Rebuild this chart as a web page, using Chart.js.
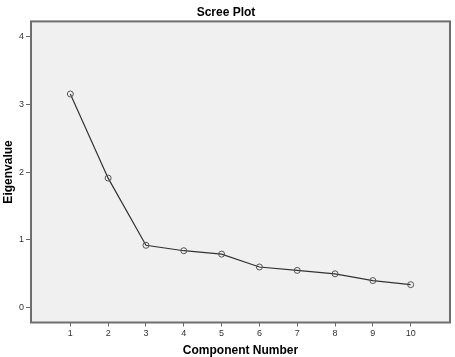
<!DOCTYPE html>
<html>
<head>
<meta charset="utf-8">
<script src="https://cdn.jsdelivr.net/npm/chart.js@4"></script>
<style>
  html, body { margin: 0; padding: 0; background: #ffffff; }
  #wrap { width: 455px; height: 357px; }
</style>
</head>
<body>
<div id="wrap"><canvas id="c" width="455" height="357"></canvas></div>
<script>
const components = [1, 2, 3, 4, 5, 6, 7, 8, 9, 10];
const eigenvalues = [3.15, 1.91, 0.92, 0.84, 0.79, 0.60, 0.55, 0.50, 0.40, 0.34];
const xTickValues = [1, 2, 3, 4, 5, 6, 7, 8, 9, 10];
const yTickValues = [0, 1, 2, 3, 4];

const plotBg = {
  id: 'plotBg',
  beforeDraw(chart) {
    const a = chart.chartArea, ctx = chart.ctx;
    ctx.save();
    ctx.fillStyle = '#f0f0f0';
    ctx.fillRect(a.left, a.top, a.right - a.left, a.bottom - a.top);
    ctx.restore();
  },
  afterDatasetsDraw(chart) {
    const a = chart.chartArea, ctx = chart.ctx;
    ctx.save();
    ctx.strokeStyle = '#6e6e6e';
    ctx.lineWidth = 2;
    ctx.strokeRect(a.left, a.top, a.right - a.left, a.bottom - a.top);
    ctx.restore();
  }
};

new Chart(document.getElementById('c'), {
  type: 'line',
  data: {
    datasets: [{
      data: components.map((c, i) => ({ x: c, y: eigenvalues[i] })),
      borderColor: '#333333',
      borderWidth: 1.2,
      pointRadius: 3,
      pointBorderWidth: 1,
      pointBorderColor: '#555555',
      pointBackgroundColor: 'rgba(0,0,0,0)',
      tension: 0
    }]
  },
  options: {
    responsive: false,
    animation: false,
    layout: { padding: { left: 0, right: 3, top: 0, bottom: 0 } },
    plugins: {
      legend: { display: false },
      tooltip: { enabled: false },
      title: {
        display: true,
        text: 'Scree Plot',
        color: '#000000',
        font: { family: 'Arial, "Liberation Sans", sans-serif', size: 12, weight: 'bold' },
        padding: { top: 5, bottom: 2 }
      }
    },
    scales: {
      x: {
        type: 'linear',
        min: -0.04,
        max: 11.04,
        afterBuildTicks(scale) { scale.ticks = xTickValues.map(v => ({ value: v })); },
        afterFit(scale) { scale.height = 34.5; },
        ticks: {
          color: '#333333',
          font: { family: 'Arial, "Liberation Sans", sans-serif', size: 9 },
          padding: 2,
          maxRotation: 0
        },
        grid: { drawOnChartArea: false, drawTicks: true, tickLength: 4, color: '#666666', lineWidth: 1 },
        border: { display: false },
        title: {
          display: true,
          text: 'Component Number',
          color: '#000000',
          font: { family: 'Arial, "Liberation Sans", sans-serif', size: 12, weight: 'bold', lineHeight: 1 },
          padding: 0
        }
      },
      y: {
        type: 'linear',
        min: -0.218,
        max: 4.22,
        afterBuildTicks(scale) { scale.ticks = yTickValues.map(v => ({ value: v })); },
        afterFit(scale) { scale.width = 31; },
        ticks: {
          color: '#333333',
          font: { family: 'Arial, "Liberation Sans", sans-serif', size: 9 },
          padding: 2
        },
        grid: { drawOnChartArea: false, drawTicks: true, tickLength: 5, color: '#666666', lineWidth: 1 },
        border: { display: false },
        title: {
          display: true,
          text: 'Eigenvalue',
          color: '#000000',
          font: { family: 'Arial, "Liberation Sans", sans-serif', size: 12, weight: 'bold', lineHeight: 1.2 },
          padding: { top: 1, bottom: 0 }
        }
      }
    }
  },
  plugins: [plotBg]
});
</script>
</body>
</html>
